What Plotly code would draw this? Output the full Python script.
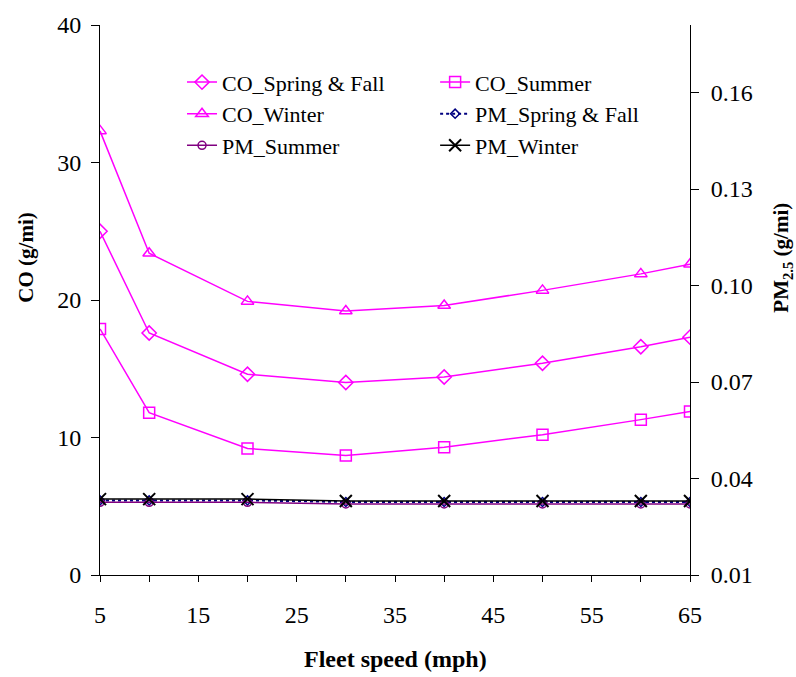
import plotly.graph_objects as go

# Fleet speed (mph)
speed = [5, 10, 20, 30, 40, 50, 60, 65]

# CO emission factors (g/mi)
co_spring_fall = [25.0, 17.6, 14.6, 14.0, 14.4, 15.4, 16.6, 17.3]
co_summer = [17.9, 11.8, 9.2, 8.7, 9.3, 10.2, 11.3, 11.9]
co_winter = [32.3, 23.4, 19.9, 19.2, 19.6, 20.7, 21.9, 22.6]

# PM2.5 emission factors (g/mi)
pm_spring_fall = [0.0332, 0.0332, 0.0332, 0.0327, 0.0327, 0.0327, 0.0327, 0.0327]
pm_summer = [0.0326, 0.0326, 0.0326, 0.0321, 0.0321, 0.0321, 0.0321, 0.0321]
pm_winter = [0.0336, 0.0336, 0.0336, 0.0330, 0.0330, 0.0330, 0.0330, 0.0330]

co_ticks = [0, 10, 20, 30, 40]
pm_ticks = [0.01, 0.04, 0.07, 0.10, 0.13, 0.16]
speed_ticks = [5, 15, 25, 35, 45, 55, 65]

FONT = "Liberation Serif"
MAGENTA = "#FF00FF"
NAVY = "#000080"
PURPLE = "#800080"

fig = go.Figure()

def co_trace(name, y, symbol, legend):
    return go.Scatter(
        x=speed, y=y, name=name, mode="lines+markers",
        line=dict(color=MAGENTA, width=1.5),
        marker=dict(symbol=symbol, size=11, color=MAGENTA,
                    line=dict(color=MAGENTA, width=1.5)),
        legend=legend,
    )

fig.add_trace(co_trace("CO_Spring & Fall", co_spring_fall, "diamond-open", "legend"))
fig.add_trace(co_trace("CO_Summer", co_summer, "square-open", "legend2"))
fig.add_trace(co_trace("CO_Winter", co_winter, "triangle-up-open", "legend"))

fig.add_trace(go.Scatter(
    x=speed, y=pm_spring_fall, name="PM_Spring & Fall", mode="lines+markers",
    yaxis="y2", legend="legend2",
    line=dict(color=NAVY, width=2, dash="dot"),
    marker=dict(symbol="diamond-open", size=7, color=NAVY,
                line=dict(color=NAVY, width=1.5)),
))
fig.add_trace(go.Scatter(
    x=speed, y=pm_summer, name="PM_Summer", mode="lines+markers",
    yaxis="y2", legend="legend",
    line=dict(color=PURPLE, width=1.5),
    marker=dict(symbol="circle-open", size=8, color=PURPLE,
                line=dict(color=PURPLE, width=1.5)),
))
fig.add_trace(go.Scatter(
    x=speed, y=pm_winter, name="PM_Winter", mode="lines+markers",
    yaxis="y2", legend="legend2",
    line=dict(color="black", width=1.5),
    marker=dict(symbol="x-thin-open", size=12, color="black",
                line=dict(color="black", width=2)),
))

tick_font = dict(family=FONT, size=24, color="black")

# Axis titles placed as annotations so they can sit where the chart wants them
fig.add_annotation(
    text="<b>Fleet speed (mph)</b>", xref="paper", yref="paper",
    x=0.5, y=-0.1526, xanchor="center", yanchor="middle", showarrow=False,
    font=dict(family=FONT, size=24, color="black"),
)
fig.add_annotation(
    text="<b>CO (g/mi)</b>", xref="paper", yref="paper", textangle=-90,
    x=-0.1254, y=0.577, xanchor="center", yanchor="middle", showarrow=False,
    font=dict(family=FONT, size=21, color="black"),
)
fig.add_annotation(
    text="<b>PM<sub>2.5</sub> (g/mi)</b>", xref="paper", yref="paper", textangle=-90,
    x=1.156, y=0.577, xanchor="center", yanchor="middle", showarrow=False,
    font=dict(family=FONT, size=21, color="black"),
)

fig.update_layout(
    width=796, height=677,
    margin=dict(l=100, r=106, t=18, b=102),
    paper_bgcolor="white", plot_bgcolor="white",
    font=dict(family=FONT, color="black"),
    showlegend=True,
    xaxis=dict(
        range=[5, 65], tickvals=speed_ticks, ticks="outside", ticklen=6,
        tickcolor="black", showline=True, linecolor="black", linewidth=1,
        showgrid=False, zeroline=False, tickfont=tick_font, ticklabelstandoff=12,
        minor=dict(dtick=5, tick0=5, ticks="outside", ticklen=6,
                   tickcolor="black", showgrid=False),
    ),
    yaxis=dict(
        range=[0, 40], tickvals=co_ticks, ticks="outside", ticklen=8,
        tickcolor="black", showline=True, linecolor="black", linewidth=1,
        showgrid=False, zeroline=False, tickfont=tick_font, ticklabelstandoff=5,
    ),
    yaxis2=dict(
        overlaying="y", side="right", range=[0.01, 0.181], tickvals=pm_ticks,
        tickformat=".2f", ticks="outside", ticklen=8, tickcolor="black",
        showline=True, linecolor="black", linewidth=1,
        showgrid=False, zeroline=False, tickfont=tick_font, ticklabelstandoff=7,
    ),
    legend=dict(
        x=0.139, y=0.934, xanchor="left", yanchor="top",
        bgcolor="rgba(0,0,0,0)", font=dict(family=FONT, size=22, color="black"),
        tracegroupgap=0, itemwidth=30,
    ),
    legend2=dict(
        x=0.568, y=0.934, xanchor="left", yanchor="top",
        bgcolor="rgba(0,0,0,0)", font=dict(family=FONT, size=22, color="black"),
        tracegroupgap=0, itemwidth=30,
    ),
)

fig.write_html("out.html")
